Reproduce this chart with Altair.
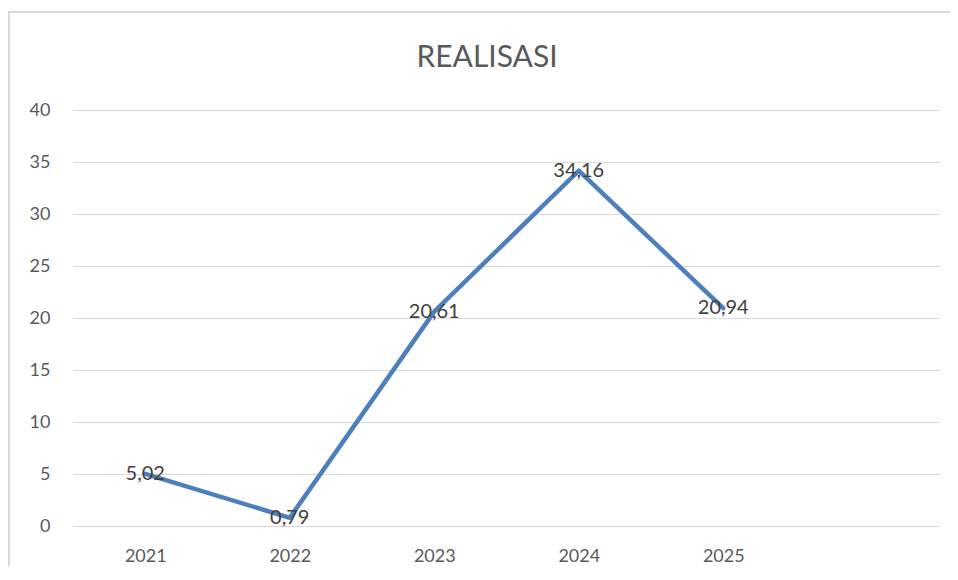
import altair as alt
import pandas as pd

years = ["2021", "2022", "2023", "2024", "2025"]
values = [5.02, 0.79, 20.61, 34.16, 20.94]
x_domain = years + [" "]
y_ticks = [0, 5, 10, 15, 20, 25, 30, 35, 40]
title_text = "REALISASI"

df = pd.DataFrame({"year": years, "value": values})
df["label"] = [f"{v:.2f}".replace(".", ",") for v in values]

FONT = "Lato"
x_enc = alt.X(
    "year:O",
    scale=alt.Scale(type="point", domain=x_domain, padding=0.5),
    axis=alt.Axis(
        title=None, labelAngle=0, domain=False, ticks=False, grid=False,
        labelFont=FONT, labelFontSize=18, labelColor="#595959", labelPadding=21,
    ),
)
y_enc = alt.Y(
    "value:Q",
    scale=alt.Scale(domain=[0, 40], nice=False, zero=True),
    axis=alt.Axis(
        title=None, values=y_ticks, domain=False, ticks=False,
        grid=True, gridColor="#d9d9d9", gridWidth=1,
        labelFont=FONT, labelFontSize=18, labelColor="#595959", labelPadding=23,
    ),
)

frame = alt.Chart(df).mark_rect(fill=None, stroke="#d9d9d9", strokeWidth=2).encode(
    x=alt.value(-64), x2=alt.value(960), y=alt.value(-98), y2=alt.value(600)
)

title = alt.Chart(pd.DataFrame({"t": [title_text]})).mark_text(
    font=FONT, fontSize=30, color="#595959", align="center", baseline="alphabetic"
).encode(x=alt.value(414), y=alt.value(-43), text="t:N")

line = alt.Chart(df).mark_line(
    color="#4E7FBD", strokeWidth=4.5, strokeCap="round", strokeJoin="round"
).encode(x=x_enc, y=y_enc)

labels = alt.Chart(df).mark_text(
    font=FONT, fontSize=20, color="#404040", baseline="middle", align="center"
).encode(x=x_enc, y=y_enc, text="label:N")

chart = (
    alt.layer(frame, title, line, labels)
    .properties(
        width=867,
        height=416,
        autosize=alt.AutoSizeParams(type="none"),
        padding={"left": 65, "top": 102, "right": 10, "bottom": 40},
    )
    .configure(background="white")
    .configure_view(stroke=None, strokeWidth=0)
)

chart.save("out.html", embed_options={"renderer": "svg", "actions": False})
